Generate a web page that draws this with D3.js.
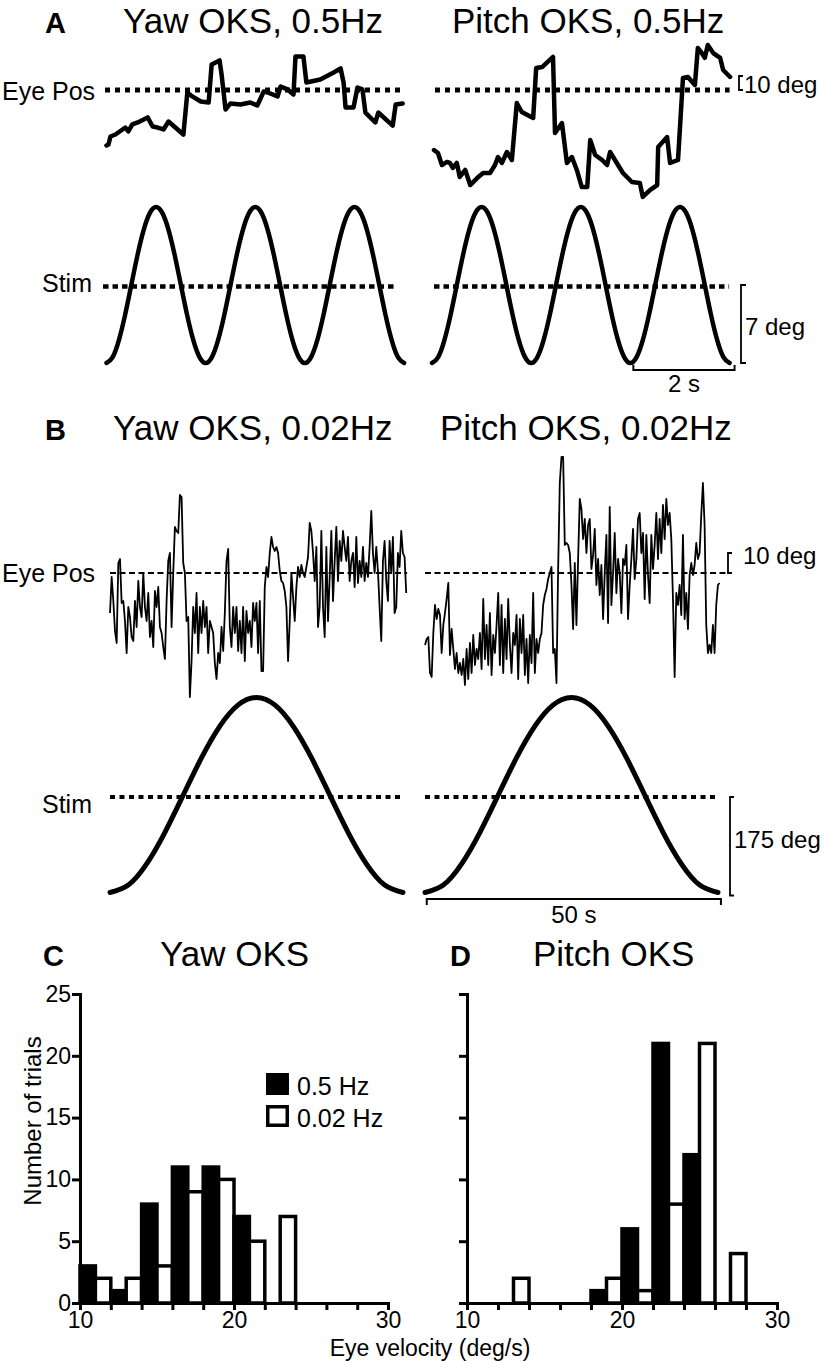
<!DOCTYPE html>
<html><head><meta charset="utf-8">
<script src="https://cdn.jsdelivr.net/npm/d3@7"></script>
<style>body{margin:0;background:#fff}svg{display:block}</style>
</head><body>
<script>
// ---------------- DATA ----------------
// Panel A (0.5 Hz): eye position [time s, deg]
const aYawEye = [[0.00,-39.6],[0.04,-38.9],[0.08,-33.2],[0.18,-31.8],[0.38,-26.8],[0.44,-29.6],[0.52,-24.6],[0.63,-23.2],[0.83,-19.6],[0.93,-26.1],[1.03,-26.8],[1.15,-28.2],[1.25,-22.5],[1.55,-31.8],[1.63,-1.8],[1.73,-4.6],[1.90,-8.2],[2.06,-8.9],[2.12,18.2],[2.28,21.1],[2.32,11.1],[2.40,-13.9],[2.50,-9.6],[2.70,-10.4],[2.90,-8.9],[3.04,-11.1],[3.17,-1.1],[3.25,-1.8],[3.45,-4.6],[3.51,2.5],[3.65,0.4],[3.77,-3.2],[3.81,23.9],[3.97,23.9],[4.03,5.4],[4.31,7.5],[4.58,12.5],[4.72,15.4],[4.78,5.4],[4.82,-12.5],[4.98,-12.5],[5.06,1.8],[5.16,0.4],[5.22,-16.1],[5.42,-23.2],[5.48,-16.1],[5.77,-25.4],[5.83,-10.4],[5.97,-9.6]];
const aPitchEye = [[0.04,-42.9],[0.12,-45.0],[0.20,-53.6],[0.30,-51.4],[0.36,-52.1],[0.42,-55.7],[0.50,-52.1],[0.56,-62.1],[0.67,-57.1],[0.77,-67.9],[0.91,-62.9],[1.03,-59.3],[1.17,-59.3],[1.27,-53.6],[1.33,-47.9],[1.41,-52.1],[1.51,-44.3],[1.61,-50.0],[1.71,-9.3],[1.81,-15.7],[2.04,-20.0],[2.10,15.7],[2.22,16.4],[2.44,23.6],[2.48,-30.7],[2.62,-23.6],[2.72,-52.1],[2.82,-47.9],[2.92,-57.1],[3.02,-69.3],[3.13,-69.3],[3.19,-35.7],[3.29,-46.4],[3.43,-50.0],[3.53,-53.6],[3.59,-44.3],[3.75,-53.6],[3.85,-59.3],[4.03,-65.7],[4.19,-66.4],[4.25,-76.4],[4.40,-71.4],[4.54,-67.9],[4.56,-40.7],[4.74,-33.6],[4.80,-52.1],[4.96,-50.0],[5.06,8.6],[5.16,9.3],[5.30,3.6],[5.36,30.0],[5.44,26.4],[5.50,22.9],[5.56,32.1],[5.67,26.4],[5.81,22.9],[5.87,14.3],[6.01,9.3]];
// Panel A stimulus (deg), sampled every 0.125 s
const aStimDt = 0.125;
const aStim = [-7,-6.47,-4.95,-2.68,0,2.68,4.95,6.47,7,6.47,4.95,2.68,0,-2.68,-4.95,-6.47,
               -7,-6.47,-4.95,-2.68,0,2.68,4.95,6.47,7,6.47,4.95,2.68,0,-2.68,-4.95,-6.47,
               -7,-6.47,-4.95,-2.68,0,2.68,4.95,6.47,7,6.47,4.95,2.68,0,-2.68,-4.95,-6.47,-7];

// Panel B (0.02 Hz): eye position (deg), sampled every bEyeDt s
const bEyeDt = 0.284;
const bYawEye = [-20,-2,-14,-29,-35,5,7,-15,-14,-24,
 -40,-17,-22,-32,-34,-14,-27,-4,-17,-22,
 0,-17,-24,-10,-32,-24,-37,-9,-17,-7,
 -27,-30,-37,-43,-14,6,10,-27,0,23,
 21,20,39,38,5,0,-24,-22,-62,-44,
 -17,-30,-10,-40,-17,-30,-14,-27,-17,-40,
 -24,-27,-30,-45,-53,-40,-45,-27,-39,-20,
 6,12,-27,-37,-17,-30,-17,-39,-24,-40,
 -17,-44,-19,-30,-24,-37,-15,-24,-15,-40,
 -14,-49,-49,-7,3,-2,10,18,13,11,
 13,10,1,-4,-5,-9,-17,-44,-24,0,
 -12,-24,-7,3,-2,4,0,-2,3,8,
 25,21,10,-4,13,-27,-17,21,-17,-32,
 13,-24,-2,21,-14,6,23,-4,16,6,
 21,13,6,18,-4,6,10,-7,18,-5,
 6,-2,13,-4,5,-2,13,31,10,0,
 13,1,-17,-34,6,16,-4,-14,16,0,
 18,-20,-17,10,3,21,10,8,-10];
const bPitchEye = [-36,-33,-32,-50,-52,-30,-16,-23,-18,-21,
 -40,-26,-20,-13,-5,-41,-28,-38,-48,-40,
 -50,-45,-51,-43,-56,-38,-53,-35,-50,-31,
 -46,-38,-43,-30,-48,-13,-43,-26,-46,-20,
 -51,-31,-40,-26,-10,-46,-16,-50,-23,-43,
 -13,-36,-50,-30,-36,-21,-53,-23,-40,-21,
 -51,-33,-55,-31,-45,-10,-50,-33,-40,-33,
 -30,-16,-11,-8,-3,0,3,-40,-38,-55,
 2,45,58,58,14,15,14,10,-6,-28,
 5,-26,7,37,32,17,27,10,24,27,
 2,9,22,-6,7,-11,4,-23,0,19,
 -25,33,-16,0,20,-10,7,0,-20,7,
 4,14,-23,-6,7,22,-3,7,27,30,
 10,20,-13,19,-1,-15,19,2,14,30,
 7,27,10,34,17,37,24,30,17,-13,
 -52,-10,-16,-6,-21,19,-23,-10,-28,-1,
 5,-1,4,15,7,10,29,45,24,-26,
 -40,-36,-40,-26,-40,-16,-6,-5];
// Panel B stimulus (deg), sampled every 3.125 s
const bStimDt = 3.125;
const bStim = [-175,-161.7,-123.7,-67,0,67,123.7,161.7,175,161.7,123.7,67,0,-67,-123.7,-161.7,-175];

// Panels C/D histograms: bins of 2 deg/s starting at
const binStarts = [10,12,14,16,18,20,22,24,26,28];
const yaw05   = [3,1,8,11,11,7,0,0,0,0];
const yaw002  = [2,2,3,9,10,5,7,0,0,0];
const pitch05 = [0,0,0,0,1,6,21,12,0,0];
const pitch002= [0,2,0,0,2,1,8,21,4,0];
const yTicks = [0,5,10,15,20,25];
const xTicks = [10,12,14,16,18,20,22,24,26,28,30];
const xTickLabels = [10,20,30];
const legendLabels = ["0.5 Hz","0.02 Hz"];

// ---------------- DRAW ----------------
const FONT = 'Arial, "Liberation Sans", Helvetica, sans-serif';
const svg = d3.select('body').append('svg').attr('width',825).attr('height',1361);

function label(x,y,s,size,opt={}){
  return svg.append('text').attr('x',x).attr('y',y).attr('font-size',size)
    .attr('font-family',FONT).attr('font-weight',opt.bold?'bold':'normal')
    .attr('text-anchor',opt.anchor||'start').attr('fill','#000').text(s);
}
function hline(x1,x2,y,sw,dash){
  return svg.append('line').attr('x1',x1).attr('x2',x2).attr('y1',y).attr('y2',y)
    .attr('stroke','#000').attr('stroke-width',sw).attr('stroke-dasharray',dash||null);
}
function bracket(x,y1,y2,tick){
  svg.append('path').attr('d',`M${x+tick},${y1}H${x}V${y2}H${x+tick}`)
    .attr('fill','none').attr('stroke','#000').attr('stroke-width',1.8);
}

// ---- Panel A ----
label(45,33,'A',29,{bold:true});
label(123,33,'Yaw OKS, 0.5Hz',35);
label(452,33,'Pitch OKS, 0.5Hz',35);
label(2,100,'Eye Pos',25);
label(42,292,'Stim',25);

const aEyeY = d3.scaleLinear().domain([-10,10]).range([104,76]);
const aStimY = d3.scaleLinear().domain([-7,7]).range([363,207]);
const aPanels = [
  {x0:106.5, eye:aYawEye, eyeLine:[-0.03,5.92], stimLine:[-0.07,5.86]},
  {x0:432, eye:aPitchEye, eyeLine:[0.06,6.0], stimLine:[0.04,5.99]}
];
aPanels.forEach(p=>{
  const x = d3.scaleLinear().domain([0,6]).range([p.x0,p.x0+6*49.6]);
  p.x = x;
  hline(x(p.eyeLine[0]),x(p.eyeLine[1]),aEyeY(0),5,'5 5');
  hline(x(p.stimLine[0]),x(p.stimLine[1]),aStimY(0)+1.5,4.5,'5.5 4');
  svg.append('path').datum(p.eye)
    .attr('d',d3.line().x(d=>x(d[0])).y(d=>aEyeY(d[1])))
    .attr('fill','none').attr('stroke','#000').attr('stroke-width',4.5)
    .attr('stroke-linejoin','round').attr('stroke-linecap','round');
  svg.append('path').datum(aStim)
    .attr('d',d3.line().x((d,i)=>x(i*aStimDt)).y(d=>aStimY(d)).curve(d3.curveNatural))
    .attr('fill','none').attr('stroke','#000').attr('stroke-width',4.5)
    .attr('stroke-linecap','round');
});
// scale bars A
bracket(739,aEyeY(10),aEyeY(0),4);
label(744,93,'10 deg',24);
bracket(741,aStimY(0),aStimY(-7),5);
label(745,335,'7 deg',24);
{
  const x = aPanels[1].x;
  svg.append('path').attr('d',`M${x(4.06)},365V370H${x(6.1)}V365`)
    .attr('fill','none').attr('stroke','#000').attr('stroke-width',2);
  label((x(4.06)+x(6.1))/2,392,'2 s',24,{anchor:'middle'});
}

// ---- Panel B ----
label(45,440,'B',29,{bold:true});
label(113,440,'Yaw OKS, 0.02Hz',35);
label(440,440,'Pitch OKS, 0.02Hz',35);
label(2,582,'Eye Pos',25);
label(42,813,'Stim',25);

const bEyeY = d3.scaleLinear().domain([-10,10]).range([593,553]);
const bStimY = d3.scaleLinear().domain([-175,175]).range([892.5,697.5]);
const bPanels = [
  {x0:110, eye:bYawEye, eyeLine:[0,50.7], stimLine:[0,49.5]},
  {x0:425, eye:bPitchEye, eyeLine:[0,52], stimLine:[0,49.7]}
];
bPanels.forEach(p=>{
  const x = d3.scaleLinear().domain([0,50]).range([p.x0,p.x0+293]);
  p.x = x;
  hline(x(p.eyeLine[0]),x(p.eyeLine[1]),bEyeY(0),2,'6 3.5');
  hline(x(p.stimLine[0]),x(p.stimLine[1]),bStimY(0)+2,4,'5 4.5');
  svg.append('path').datum(p.eye)
    .attr('d',d3.line().x((d,i)=>x(i*bEyeDt)).y(d=>bEyeY(d)))
    .attr('fill','none').attr('stroke','#000').attr('stroke-width',1.8)
    .attr('stroke-linejoin','round');
  svg.append('path').datum(bStim)
    .attr('d',d3.line().x((d,i)=>x(i*bStimDt)).y(d=>bStimY(d)).curve(d3.curveNatural))
    .attr('fill','none').attr('stroke','#000').attr('stroke-width',5)
    .attr('stroke-linecap','round');
});
bracket(728,bEyeY(10),bEyeY(0),4);
label(743,564,'10 deg',24);
bracket(730,bStimY(0)+2,bStimY(-175)+3,4);
label(734,848,'175 deg',24);
{
  const x = bPanels[1].x;
  svg.append('path').attr('d',`M${x(0.3)},905V899H${x(50.5)}V905`)
    .attr('fill','none').attr('stroke','#000').attr('stroke-width',2);
  label((x(0.3)+x(50.5))/2,923,'50 s',24,{anchor:'middle'});
}

// ---- Panels C & D ----
label(43,966,'C',29,{bold:true});
label(160,966,'Yaw OKS',35);
label(450,966,'D',29,{bold:true});
label(533,966,'Pitch OKS',35);

const hy = d3.scaleLinear().domain([0,25]).range([1303,994]);
const hPanels = [
  {x0:80, x1:388, black:yaw05, white:yaw002, yLabels:true},
  {x0:467, x1:777, black:pitch05, white:pitch002, yLabels:false}
];
hPanels.forEach(p=>{
  const x = d3.scaleLinear().domain([10,30]).range([p.x0,p.x1]);
  const g = svg.append('g');
  binStarts.forEach((a,i)=>{
    const vb = p.black[i], vw = p.white[i];
    if(vb>0) g.append('rect').attr('x',x(a)).attr('width',x(a+1)-x(a))
      .attr('y',hy(vb)).attr('height',hy(0)-hy(vb))
      .attr('fill','#000').attr('stroke','#000').attr('stroke-width',3.5);
    if(vw>0) g.append('rect').attr('x',x(a+1)).attr('width',x(a+2)-x(a+1))
      .attr('y',hy(vw)).attr('height',hy(0)-hy(vw))
      .attr('fill','#fff').attr('stroke','#000').attr('stroke-width',3.5);
  });
  const ax = svg.append('g').attr('transform',`translate(0,${hy(0)})`)
    .call(d3.axisBottom(x).tickValues(xTicks).tickSize(7).tickSizeOuter(0).tickPadding(2)
      .tickFormat(d=>xTickLabels.includes(d)?d:''));
  const ay = svg.append('g').attr('transform',`translate(${p.x0},0)`)
    .call(d3.axisLeft(hy).tickValues(yTicks).tickSize(8).tickSizeOuter(0).tickPadding(1)
      .tickFormat(d=>p.yLabels?d:''));
  [ax,ay].forEach(a=>{
    a.attr('font-size',23).attr('font-family',FONT);
    a.select('.domain').attr('stroke-width',3).attr('stroke-linecap','square');
    a.selectAll('.tick line').attr('stroke-width',3);
    a.selectAll('text').attr('fill','#000');
  });
});
// y-axis title and x-axis title
svg.append('text').attr('transform','translate(41,1121) rotate(-90)')
  .attr('text-anchor','middle').attr('font-size',24).attr('font-family',FONT)
  .text('Number of trials');
label(430,1356,'Eye velocity (deg/s)',23,{anchor:'middle'});

// legend
svg.append('rect').attr('x',267.75).attr('y',1074.75).attr('width',19.5).attr('height',18.5)
  .attr('fill','#000').attr('stroke','#000').attr('stroke-width',3.5);
svg.append('rect').attr('x',267.75).attr('y',1106.75).attr('width',19.5).attr('height',18.5)
  .attr('fill','#fff').attr('stroke','#000').attr('stroke-width',3.5);
label(297,1095,legendLabels[0],25);
label(297,1127,legendLabels[1],25);
</script>
</body></html>
